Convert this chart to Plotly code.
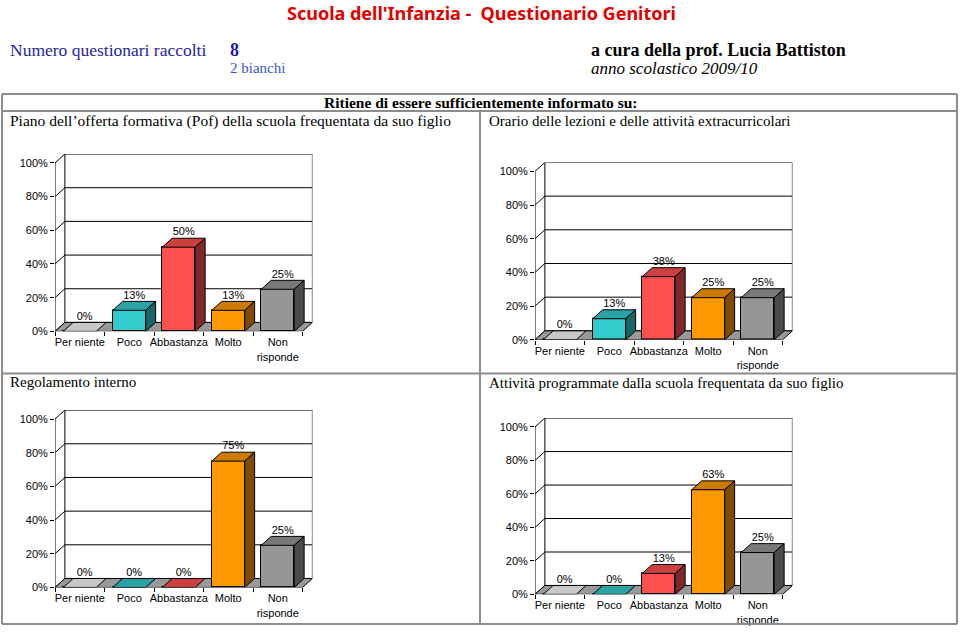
import plotly.graph_objects as go

# ---------------- data ----------------
categories = ["Per niente", "Poco", "Abbastanza", "Molto", "Non<br>risponde"]
tick_values = [0, 20, 40, 60, 80, 100]
tick_labels = ["0%", "20%", "40%", "60%", "80%", "100%"]

pof_values = [0, 12.5, 50, 12.5, 25]
pof_labels = ["0%", "13%", "50%", "13%", "25%"]

orario_values = [0, 12.5, 37.5, 25, 25]
orario_labels = ["0%", "13%", "38%", "25%", "25%"]

regolamento_values = [0, 0, 0, 75, 25]
regolamento_labels = ["0%", "0%", "0%", "75%", "25%"]

attivita_values = [0, 0, 12.5, 62.5, 25]
attivita_labels = ["0%", "0%", "13%", "63%", "25%"]

front_colors = ["#D0D0D0", "#33CCCC", "#FF5050", "#FF9900", "#969696"]
top_colors = ["#C8C8C8", "#29A3A3", "#CC4040", "#CC7A00", "#787878"]
side_colors = ["#707070", "#1A6666", "#802828", "#804D00", "#4B4B4B"]

# ---------------- geometry ----------------
W, H = 960, 638
DX = 0.2     # depth in category units
DY = 5.3     # depth in percent units
GAP = 0.167
PPU_X = 49.5

charts = [
    # values, labels, front-left px, 0% py, px per %
    (pof_values, pof_labels, 55, 334.5, 1.70),
    (orario_values, orario_labels, 535, 343, 1.70),
    (regolamento_values, regolamento_labels, 55, 593, 1.70),
    (attivita_values, attivita_labels, 535, 600, 1.69),
]

SANS = "Liberation Sans"
SERIF = "Liberation Serif"

fig = go.Figure()
shapes = []
annotations = []
layout_axes = {}

for k, (vals, labs, px0, py0, ppy) in enumerate(charts, start=1):
    xa = "x" if k == 1 else f"x{k}"
    ya = "y" if k == 1 else f"y{k}"
    xr = [0, 5 + DX]
    yr = [0, 100 + DY]
    x_dom = [px0 / W, (px0 + (xr[1] - xr[0]) * PPU_X) / W]
    y_dom = [1 - py0 / H, 1 - (py0 - yr[1] * ppy) / H]
    layout_axes["xaxis" if k == 1 else f"xaxis{k}"] = dict(
        domain=x_dom, range=xr, anchor=ya,
        tickmode="array", tickvals=[i + 0.5 for i in range(5)], ticktext=categories,
        ticks="", showgrid=False, zeroline=False, showline=False,
        ticklabelstandoff=3,
        tickfont=dict(family=SANS, size=11, color="black"),
        minor=dict(tickmode="array", tickvals=[0, 1, 2, 3, 4, 5], ticks="outside",
                   ticklen=4, tickcolor="black", tickwidth=1, showgrid=False),
        fixedrange=True,
    )
    layout_axes["yaxis" if k == 1 else f"yaxis{k}"] = dict(
        domain=y_dom, range=yr, anchor=xa,
        tickmode="array", tickvals=tick_values, ticktext=tick_labels,
        ticks="outside", ticklen=4, tickcolor="black", tickwidth=1,
        showgrid=False, zeroline=False, showline=False,
        tickfont=dict(family=SANS, size=11, color="black"),
        fixedrange=True,
    )

    # back wall
    shapes.append(dict(type="rect", xref=xa, yref=ya, x0=DX, x1=5 + DX, y0=DY, y1=100 + DY,
                       fillcolor="white", line=dict(color="black", width=1), layer="below"))
    for v in tick_values[1:-1]:
        shapes.append(dict(type="line", xref=xa, yref=ya, x0=DX, x1=5 + DX, y0=v + DY, y1=v + DY,
                           line=dict(color="black", width=1), layer="below"))
    for v in tick_values:
        shapes.append(dict(type="line", xref=xa, yref=ya, x0=0, x1=DX, y0=v, y1=v + DY,
                           line=dict(color="black", width=1), layer="below"))
    shapes.append(dict(type="line", xref=xa, yref=ya, x0=0, x1=0, y0=0, y1=100,
                       line=dict(color="black", width=1), layer="below"))
    # floor
    shapes.append(dict(type="path", xref=xa, yref=ya,
                       path=f"M 0,0 L 5,0 L {5+DX},{DY} L {DX},{DY} Z",
                       fillcolor="#999999", line=dict(color="black", width=1), layer="below"))

    # front faces
    fig.add_trace(go.Bar(x=[i + 0.5 for i in range(5)], y=vals, width=1 - 2 * GAP,
                         marker=dict(color=front_colors, line=dict(color="black", width=1)),
                         xaxis=xa, yaxis=ya, hoverinfo="skip", showlegend=False))
    for i, v in enumerate(vals):
        l, r = i + GAP, i + 1 - GAP
        # top face
        fig.add_trace(go.Scatter(x=[l, r, r + DX, l + DX, l], y=[v, v, v + DY, v + DY, v],
                                 fill="toself", fillcolor=top_colors[i], mode="lines",
                                 line=dict(color="black", width=1), xaxis=xa, yaxis=ya,
                                 hoverinfo="skip", showlegend=False))
        if v > 0:
            fig.add_trace(go.Scatter(x=[r, r + DX, r + DX, r, r], y=[0, DY, v + DY, v, 0],
                                     fill="toself", fillcolor=side_colors[i], mode="lines",
                                     line=dict(color="black", width=1), xaxis=xa, yaxis=ya,
                                     hoverinfo="skip", showlegend=False))
    fig.add_trace(go.Scatter(x=[i + 0.5 + DX / 2 for i in range(5)], y=[v + DY for v in vals],
                             text=labs, mode="text", textposition="top center",
                             textfont=dict(family=SANS, size=11, color="black"),
                             xaxis=xa, yaxis=ya, hoverinfo="skip", showlegend=False))

# ---------------- table frame ----------------
def PX(x):
    return x / W


def PY(y):
    return 1 - y / H


GRAY = "#8C8C8C"
for (x0, y0, x1, y1) in [(2, 95, 957, 95), (2, 112, 957, 112), (2, 377, 957, 377),
                         (2, 630, 957, 630), (2, 95, 2, 630), (957, 95, 957, 630),
                         (480, 112, 480, 630)]:
    shapes.append(dict(type="line", xref="paper", yref="paper",
                       x0=PX(x0), y0=PY(y0), x1=PX(x1), y1=PY(y1),
                       line=dict(color=GRAY, width=2)))


def text(x, y, s, size, color="black", family=SERIF, anchor="left"):
    annotations.append(dict(x=PX(x), y=PY(y), xref="paper", yref="paper", text=s,
                            showarrow=False, xanchor=anchor, yanchor="middle",
                            font=dict(family=family, size=size, color=color)))


text(481, 13, "<b>Scuola dell'Infanzia -  Questionario Genitori</b>", 18, "#E00000",
     "Noto Sans", "center")
text(8, 50, "Numero questionari raccolti", 17.5, "#1F1F9E")
text(228, 50, "<b>8</b>", 18, "#1A1AA8")
text(228, 69, "2 bianchi", 15, "#3A55C8")
text(589, 50, "<b>a cura della prof. Lucia Battiston</b>", 18, "black")
text(589, 69, "<i>anno scolastico 2009/10</i>", 17, "black")
text(481, 103, "<b>Ritiene di essere sufficientemente informato su:</b>", 15.5, "black",
     SERIF, "center")
text(8, 122, "Piano dell’offerta formativa (Pof) della scuola frequentata da suo figlio", 15.5)
text(487, 122, "Orario delle lezioni e delle attività extracurricolari", 15)
text(8, 386, "Regolamento interno", 15)
text(487, 387, "Attività programmate dalla scuola frequentata da suo figlio", 15)

fig.update_layout(
    width=W, height=H, margin=dict(l=0, r=0, t=0, b=0),
    paper_bgcolor="white", plot_bgcolor="rgba(0,0,0,0)",
    shapes=shapes, annotations=annotations, showlegend=False,
    bargap=0, **layout_axes,
)

fig.write_html("out.html")
